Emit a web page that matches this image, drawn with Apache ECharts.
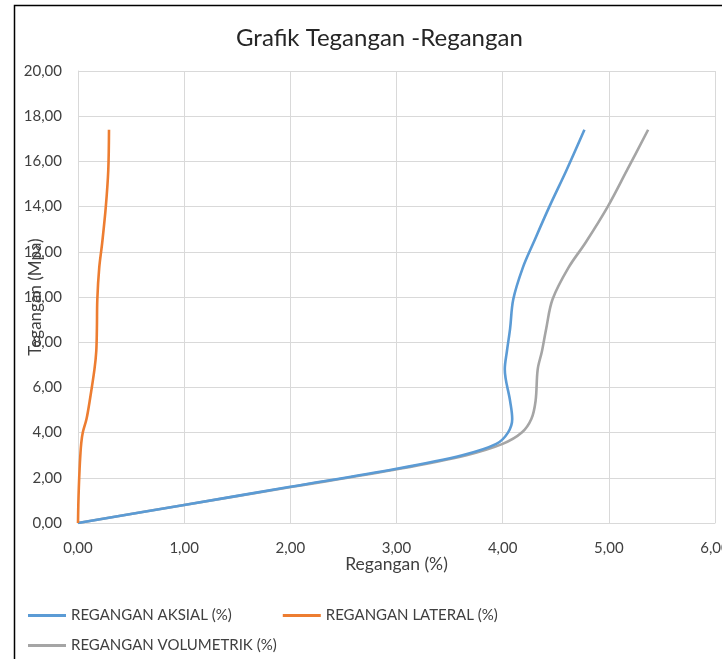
<!DOCTYPE html>
<html>
<head>
<meta charset="utf-8">
<script src="https://cdn.jsdelivr.net/npm/echarts@6/dist/echarts.min.js"></script>
<style>
  html, body { margin: 0; padding: 0; background: #ffffff; }
  #chart { width: 722px; height: 659px; }
</style>
</head>
<body>
<div id="chart"></div>
<script>
// Stress levels (MPa) shared by the three strain curves
const tegangan = [0, 0.8, 1.6, 2.4, 3.0, 3.5, 4.0, 4.6, 5.4, 6.8, 7.6, 8.6, 9.9, 11.3, 12.4, 14.0, 15.6, 17.4];

// Strain readings (%) at each stress level
const reganganAksial = [0, 1.0, 2.0, 3.0, 3.62, 3.94, 4.05, 4.09, 4.07, 4.02, 4.04, 4.07, 4.10, 4.19, 4.29, 4.44, 4.60, 4.77];
const reganganLateral = [0, 0.003, 0.008, 0.015, 0.022, 0.03, 0.045, 0.08, 0.11, 0.155, 0.172, 0.178, 0.182, 0.20, 0.228, 0.262, 0.285, 0.292];
const reganganVolumetrik = [0, 1.0, 2.02, 3.03, 3.66, 4.0, 4.18, 4.27, 4.31, 4.33, 4.37, 4.41, 4.47, 4.62, 4.78, 4.99, 5.17, 5.37];

const seriesNames = ['REGANGAN AKSIAL (%)', 'REGANGAN LATERAL (%)', 'REGANGAN VOLUMETRIK (%)'];
const seriesColors = ['#5B9BD5', '#ED7D31', '#A5A5A5'];

const FONT = 'Lato, "Open Sans", sans-serif';
const TEXT = '#404040';

const pairs = (xs) => xs.map((x, i) => [x, tegangan[i]]);
const fmt = (v) => v.toFixed(2).replace('.', ',');

const chart = echarts.init(document.getElementById('chart'), null, { renderer: 'canvas' });

const legendCommon = {
  left: 28,
  orient: 'horizontal',
  itemWidth: 38,
  itemHeight: 12,
  itemGap: 51,
  icon: 'path://M0,4.5 L38,4.5 L38,7.5 L0,7.5 Z',
  textStyle: { fontFamily: FONT, fontSize: 15, color: TEXT, width: 160 },
  padding: 0
};

const axisCommon = {
  type: 'value',
  nameLocation: 'middle',
  nameMoveOverlap: false,
  axisLine: { show: true, lineStyle: { color: '#d9d9d9', width: 1 } },
  axisTick: { show: false },
  splitLine: { show: true, lineStyle: { color: '#d9d9d9', width: 1 } }
};

chart.setOption({
  backgroundColor: '#ffffff',
  animation: false,
  title: {
    text: 'Grafik Tegangan -Regangan',
    left: 236,
    top: 26,
    padding: 0,
    textStyle: { fontFamily: FONT, fontWeight: 'normal', fontSize: 24, color: '#262626' }
  },
  grid: { left: 78, right: 7, top: 71, bottom: 136, containLabel: false, outerBoundsMode: 'none' },
  xAxis: Object.assign({}, axisCommon, {
    min: 0, max: 6, interval: 1,
    name: 'Regangan (%)',
    nameGap: 32,
    nameTextStyle: { fontFamily: FONT, fontSize: 17.5, color: TEXT },
    axisLabel: { fontFamily: FONT, fontSize: 15, color: TEXT, margin: 18, formatter: fmt }
  }),
  yAxis: Object.assign({}, axisCommon, {
    min: 0, max: 20, interval: 2,
    name: 'Tegangan (Mpa)',
    nameGap: 34,
    nameTextStyle: { fontFamily: FONT, fontSize: 17, color: TEXT },
    axisLabel: { fontFamily: FONT, fontSize: 15, color: TEXT, margin: 16, formatter: fmt }
  }),
  legend: [
    Object.assign({}, legendCommon, { top: 608, data: [seriesNames[0], seriesNames[1]] }),
    Object.assign({}, legendCommon, { top: 638, data: [seriesNames[2]] })
  ],
  series: [reganganAksial, reganganLateral, reganganVolumetrik].map((xs, i) => ({
    name: seriesNames[i],
    type: 'line',
    data: pairs(xs),
    smooth: 0.35,
    showSymbol: false,
    symbol: 'none',
    z: i === 2 ? 2 : 3,
    itemStyle: { color: seriesColors[i] },
    lineStyle: { color: seriesColors[i], width: 2.6 }
  })),
  graphic: [
    {
      type: 'polyline',
      shape: { points: [[14.5, 659], [14.5, 5.5], [722, 5.5]] },
      style: { stroke: '#000000', lineWidth: 1.5, fill: null },
      silent: true
    }
  ]
});
</script>
</body>
</html>
